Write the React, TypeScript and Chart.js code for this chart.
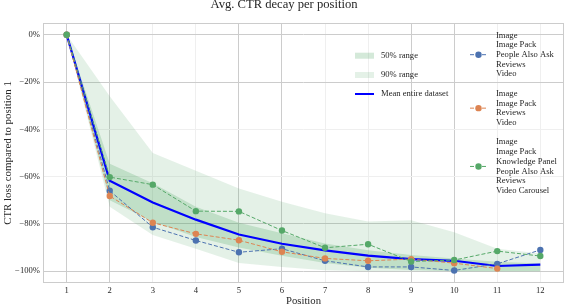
import { useEffect, useRef } from 'react';
import { Chart, registerables } from 'chart.js';

Chart.register(...registerables);

// ---------- data ----------
const positions = [1, 2, 3, 4, 5, 6, 7, 8, 9, 10, 11, 12];
const yTicks = [0, -20, -40, -60, -80, -100];

const meanAll = [0, -61.7, -70.9, -78.2, -84.5, -88.4, -91.2, -93.4, -94.9, -95.6, -97.8, -97.2];
const groupA = [0, -66.0, -81.4, -87.0, -92.0, -90.5, -95.6, -98.2, -98.2, -99.7, -96.9, -91.0];
const groupB = [0, -68.2, -79.5, -84.2, -86.9, -91.8, -94.6, -95.6, -94.9, -96.6, -98.9, null];
const groupC = [0, -60.2, -63.4, -74.6, -74.7, -82.8, -90.1, -88.6, -95.9, -95.3, -91.5, -93.6];

const range90Upper = [0, -26, -50, -57.5, -65, -70.6, -75.5, -79, -78.4, -83.5, -90.5, -92.5];
const range90Lower = [0, -72.7, -84.7, -90.5, -96.5, -98.2, -99.6, -100, -100, -100, -100, -100];
const range50Upper = [0, -54.5, -62.8, -72.7, -79.5, -84, -88.3, -91.1, -93.2, -94.6, -96, -96.7];
const range50Lower = [0, -70, -79.1, -85.5, -90, -93.5, -96.5, -98.5, -99.5, -100, -100, -100];

const legendA = ['Image', 'Image Pack', 'People Also Ask', 'Reviews', 'Video'];
const legendB = ['Image', 'Image Pack', 'Reviews', 'Video'];
const legendC = ['Image', 'Image Pack', 'Knowledge Panel', 'People Also Ask', 'Reviews', 'Video Carousel'];
const bandLegend = ['50% range', '90% range', 'Mean entire dataset'];

const titleText = 'Avg. CTR decay per position';
const xTitle = 'Position';
const yTitle = 'CTR loss compared to position 1';

// ---------- styles ----------
const FONT = '"Liberation Serif", "Times New Roman", serif';
const TEXT = '#262626';
const BLUE = '#4c72b0';
const ORANGE = '#dd8452';
const GREEN = '#55a868';
const MEAN = '#0000ff';
const BAND90 = 'rgba(85,168,104,0.16)';
const BAND50 = 'rgba(85,168,104,0.25)';
const GRID_STRONG = '#cccccc';
const GRID_FAINT = '#efefef';
const strongX = [1, 2, 5, 6, 9, 10];
const strongY = [0, -20, -80, -100];

const xy = (vals: (number | null)[]) => positions.map((x, i) => ({ x, y: vals[i] }));

const decorations = {
  id: 'decorations',
  beforeDatasetsDraw(chart: any) {
    const { ctx, chartArea: a } = chart;
    ctx.save();
    ctx.strokeStyle = GRID_STRONG;
    ctx.lineWidth = 1;
    ctx.strokeRect(Math.round(a.left) + 0.5, Math.round(a.top) + 0.5, Math.round(a.right - a.left) - 1, Math.round(a.bottom - a.top) - 1);
    ctx.restore();
  },
  afterDraw(chart: any) {
    const { ctx, chartArea: a } = chart;
    ctx.save();
    ctx.fillStyle = TEXT;
    // y tick labels
    ctx.font = `8.6px ${FONT}`;
    ctx.textAlign = 'right';
    ctx.textBaseline = 'middle';
    const ys = chart.scales.y;
    yTicks.forEach((v) => {
      const label = v === 0 ? '0%' : `\u2212${Math.abs(v)}%`;
      ctx.fillText(label, a.left - 3, ys.getPixelForValue(v));
    });
    // title
    ctx.font = `12.6px ${FONT}`;
    ctx.textAlign = 'center';
    ctx.textBaseline = 'alphabetic';
    ctx.fillText(titleText, 284, 7.5);
    // x title
    ctx.font = `10.7px ${FONT}`;
    ctx.fillText(xTitle, (a.left + a.right) / 2, 304);
    // y title
    ctx.save();
    ctx.translate(10.5, (a.top + a.bottom) / 2);
    ctx.rotate(-Math.PI / 2);
    ctx.font = `10.9px ${FONT}`;
    ctx.fillText(yTitle, 0, 0);
    ctx.restore();

    // band legend
    ctx.font = `8.6px ${FONT}`;
    ctx.textAlign = 'left';
    ctx.textBaseline = 'middle';
    const by = [55.7, 75, 94];
    ctx.fillStyle = BAND50;
    ctx.fillRect(355, by[0] - 3, 19, 6);
    ctx.fillStyle = BAND90;
    ctx.fillRect(355, by[1] - 3, 19, 6);
    ctx.strokeStyle = MEAN;
    ctx.lineWidth = 2;
    ctx.beginPath();
    ctx.moveTo(355, by[2]);
    ctx.lineTo(374, by[2]);
    ctx.stroke();
    ctx.fillStyle = TEXT;
    bandLegend.forEach((t, i) => ctx.fillText(t, 381, by[i]));

    // group legend
    const groups: [string[], string][] = [
      [legendA, BLUE],
      [legendB, ORANGE],
      [legendC, GREEN],
    ];
    let y = 35.3;
    const step = 9.7;
    groups.forEach(([lines, color]) => {
      const first = y;
      lines.forEach((t) => {
        ctx.fillStyle = TEXT;
        ctx.fillText(t, 496, y);
        y += step;
      });
      const last = y - step;
      const my = (first + last) / 2;
      ctx.strokeStyle = color;
      ctx.lineWidth = 1;
      ctx.setLineDash([4, 2]);
      ctx.beginPath();
      ctx.moveTo(470, my);
      ctx.lineTo(487, my);
      ctx.stroke();
      ctx.setLineDash([]);
      ctx.fillStyle = color;
      ctx.beginPath();
      ctx.arc(478.5, my, 3.2, 0, Math.PI * 2);
      ctx.fill();
      y = last + 19.5;
    });
    ctx.restore();
  },
};

export default function App() {
  const ref = useRef<HTMLCanvasElement | null>(null);

  useEffect(() => {
    if (!ref.current) return;
    const series = (label: string, vals: (number | null)[], color: string, order: number) => ({
      label,
      data: xy(vals),
      borderColor: color,
      backgroundColor: color,
      borderWidth: 1,
      borderDash: [4, 2],
      pointRadius: 3.2,
      pointBorderWidth: 0,
      pointBackgroundColor: color,
      fill: false,
      tension: 0,
      order,
    });
    const band = (vals: number[], fill: any, color: string, order: number) => ({
      label: '',
      data: xy(vals),
      borderWidth: 0,
      borderColor: 'rgba(0,0,0,0)',
      backgroundColor: color,
      pointRadius: 0,
      fill,
      tension: 0,
      order,
    });

    const chart = new Chart(ref.current, {
      type: 'line',
      data: {
        datasets: [
          band(range90Upper, '+1', BAND90, 6),
          band(range90Lower, false, BAND90, 6),
          band(range50Upper, '+1', BAND50, 5),
          band(range50Lower, false, BAND50, 5),
          {
            label: 'Mean entire dataset',
            data: xy(meanAll),
            borderColor: MEAN,
            backgroundColor: MEAN,
            borderWidth: 2.2,
            pointRadius: 0,
            fill: false,
            tension: 0,
            order: 4,
          },
          series('A', groupA, BLUE, 3),
          series('B', groupB, ORANGE, 2),
          series('C', groupC, GREEN, 1),
        ] as any,
      },
      options: {
        responsive: false,
        animation: false,
        layout: { padding: { left: 13, right: 2, top: 23, bottom: 10 } },
        plugins: {
          legend: { display: false },
          title: { display: false },
          tooltip: { enabled: false },
        },
        scales: {
          x: {
            type: 'linear',
            min: 0.45,
            max: 12.55,
            afterBuildTicks: (axis: any) => {
              axis.ticks = positions.map((v) => ({ value: v }));
            },
            afterFit: (s: any) => {
              s.height = 13;
            },
            border: { display: false },
            grid: {
              drawTicks: false,
              lineWidth: 1,
              color: (c: any) => (strongX.includes(c.tick?.value) ? GRID_STRONG : GRID_FAINT),
            },
            ticks: {
              padding: 3,
              autoSkip: false,
              maxRotation: 0,
              color: TEXT,
              font: { family: FONT, size: 8.6 },
              callback: (v: any) => String(v),
            },
          },
          y: {
            type: 'linear',
            min: -105,
            max: 5,
            afterBuildTicks: (axis: any) => {
              axis.ticks = yTicks.map((v) => ({ value: v }));
            },
            afterFit: (s: any) => {
              s.width = 30;
            },
            border: { display: false },
            grid: {
              drawTicks: false,
              lineWidth: 1,
              color: (c: any) => (strongY.includes(c.tick?.value) ? GRID_STRONG : GRID_FAINT),
            },
            ticks: {
              display: false,
            },
          },
        },
      } as any,
      plugins: [decorations],
    });
    return () => chart.destroy();
  }, []);

  return (
    <div style={{ position: 'fixed', left: 0, top: 0, width: 568, height: 306, background: '#fff' }}>
      <canvas ref={ref} width={568} height={306} style={{ display: 'block', width: 568, height: 306 }} />
    </div>
  );
}
